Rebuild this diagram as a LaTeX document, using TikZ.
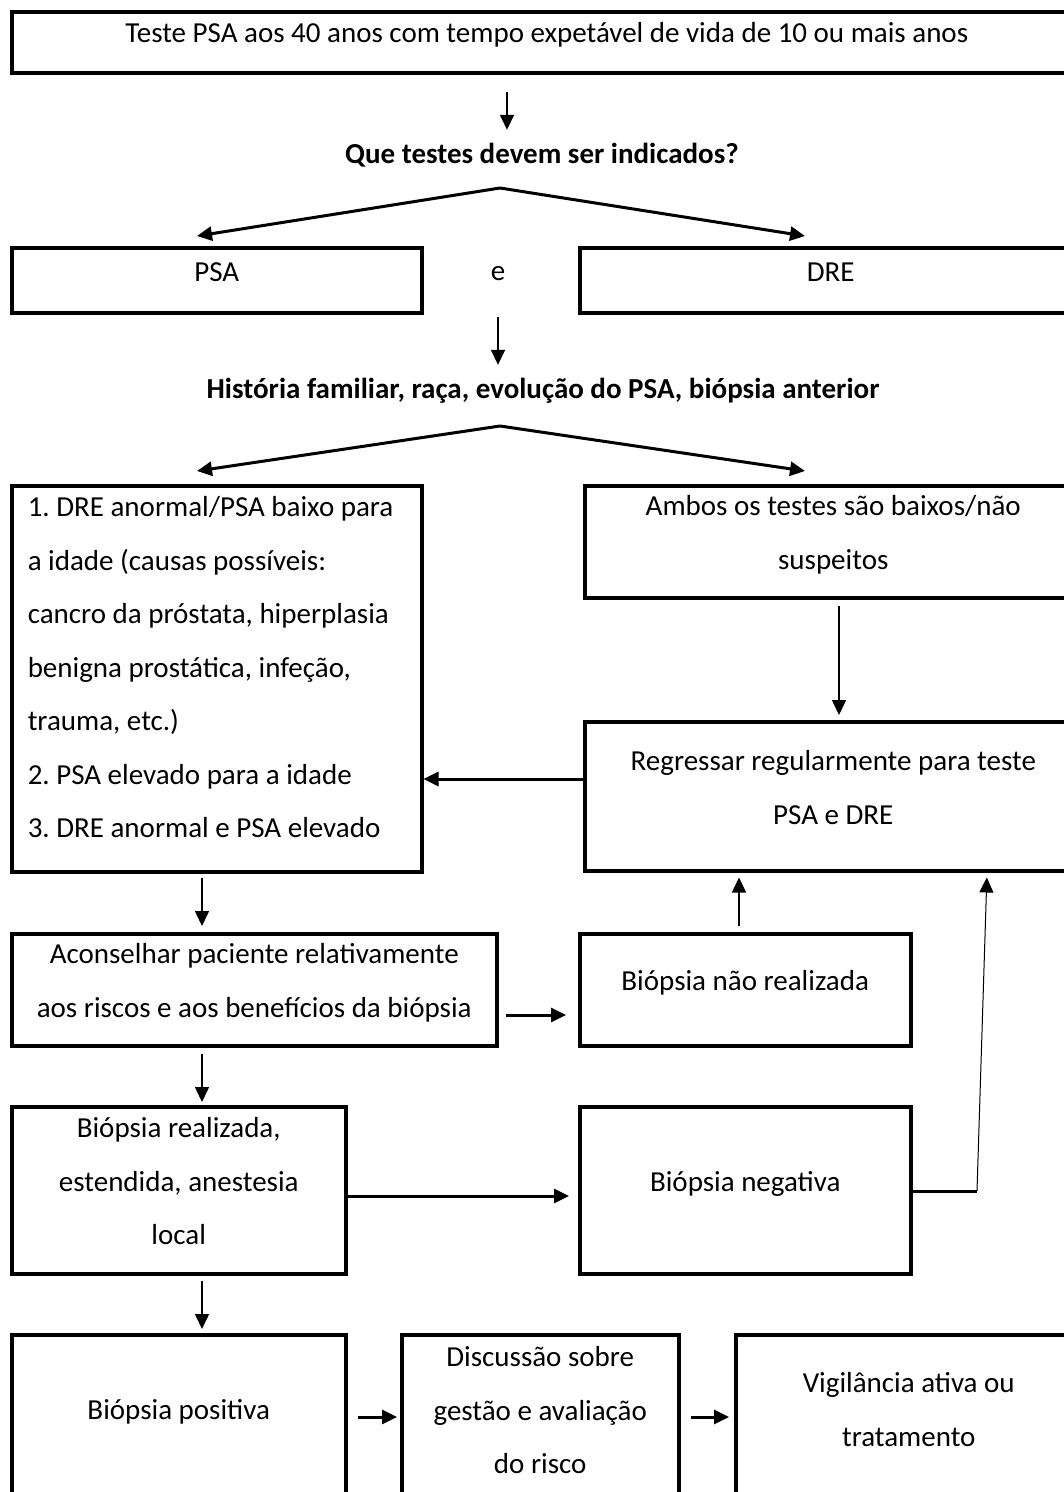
\documentclass[tikz,border=0pt]{standalone}
\usepackage{fontspec}
\setmainfont{Carlito}
\usetikzlibrary{arrows.meta}
\frenchspacing

\begin{document}
\begin{tikzpicture}[x=1pt, y=-1pt,
    every node/.style={font=\fontsize{29}{53.5}\selectfont},
    box/.style={draw, line width=3.5pt, anchor=north west, inner sep=0pt, align=flush center},
    heading/.style={font=\fontsize{29}{53.5}\selectfont\bfseries, anchor=base, inner sep=0pt, text height=22pt, text depth=7pt},
    tip/.style={-{Triangle[length=15pt, width=14pt]}},
    arr/.style={tip, line width=1.5pt},
    arrb/.style={tip, line width=3pt}]
  \useasboundingbox (0,0) rectangle (1064,1492);
  \clip (0,0) rectangle (1064,1492);
  \fill[white] (0,0) rectangle (1064,1492);

  \node[box, text width=1070pt, text height=31pt, text depth=30pt] (top) at (10,10)
    {Teste PSA aos 40 anos com tempo expetável de vida de 10 ou mais anos};
  \node[heading] (q) at (542,163) {Que testes devem ser indicados?};
  \node[box, text width=410pt, text height=34pt, text depth=31pt] (psa) at (10,246) {PSA};
  \node[anchor=base, inner sep=0pt] (e) at (498,280) {e};
  \node[box, text width=502pt, text height=34pt, text depth=31pt] (dre) at (578,246) {DRE};
  \node[heading] (hist) at (543,398) {História familiar, raça, evolução do PSA, biópsia anterior};

  \node[box, text width=378pt, inner xsep=16pt, text height=31pt, text depth=355pt, align=flush left] (crit) at (10,484)
    {1. DRE anormal/PSA baixo para\\ a idade (causas possíveis:\\ cancro da próstata, hiperplasia\\ benigna prostática, infeção,\\ trauma, etc.)\\ 2. PSA elevado para a idade\\ 3. DRE anormal e PSA elevado};
  \node[box, text width=497pt, text height=30pt, text depth=82pt] (ambos) at (583,484)
    {Ambos os testes são baixos/não\\ suspeitos};
  \node[box, text width=497pt, text height=49pt, text depth=100pt] (reg) at (583,720)
    {Regressar regularmente para teste\\ PSA e DRE};
  \node[box, text width=485pt, text height=30pt, text depth=82pt] (acon) at (10,932)
    {Aconselhar paciente relativamente\\ aos riscos e aos benefícios da biópsia};
  \node[box, text width=331pt, text height=57pt, text depth=55pt] (naoreal) at (578,932)
    {Biópsia não realizada};
  \node[box, text width=334pt, text height=31pt, text depth=136pt] (real) at (10,1105)
    {Biópsia realizada,\\ estendida, anestesia\\ local};
  \node[box, text width=331pt, text height=85pt, text depth=82pt] (neg) at (578,1105) {Biópsia negativa};
  \node[box, text width=334pt, text height=85pt, text depth=82pt] (pos) at (10,1333) {Biópsia positiva};
  \node[box, text width=277pt, text height=32pt, text depth=135pt] (disc) at (400,1333)
    {Discussão sobre\\ gestão e avaliação\\ do risco};
  \node[box, text width=346pt, text height=58pt, text depth=109pt] (vig) at (734,1333)
    {Vigilância ativa ou\\ tratamento};

  \coordinate (c507) at (507,0);
  \coordinate (colA) at (202,0);
  \coordinate (c739) at (739,0);
  \coordinate (c839) at (839,0);
  \coordinate (c987) at (987,0);
  \coordinate (split1) at (500,188);
  \coordinate (split2) at (500,426);
  \coordinate (psain) at (197,236);
  \coordinate (drein) at (805,236);
  \coordinate (critin) at (197,471);
  \coordinate (ambosin) at (805,471);
  \coordinate (r6) at (0,779);
  \coordinate (r8) at (0,1015);
  \coordinate (r11) at (0,1196);
  \coordinate (r14) at (0,1417);
  \coordinate (bend) at (977,1191);

  \draw[arr, shorten <=17pt, shorten >=11pt] (top.south -| c507) -- (q.north -| c507);
  \draw[arrb] (split1) -- (psain);
  \draw[arrb] (split1) -- (drein);
  \draw[arr, shorten <=2pt, shorten >=11pt] (psa.south -| e) -- (hist.north -| e);
  \draw[arrb] (split2) -- (critin);
  \draw[arrb] (split2) -- (ambosin);
  \draw[arr, shorten <=6pt, shorten >=5pt] (ambos.south -| c839) -- (reg.north -| c839);
  \draw[arrb] (reg.west |- r6) -- (crit.east |- r6);
  \draw[arr, shorten <=4pt, shorten >=6pt] (crit.south -| colA) -- (acon.north -| colA);
  \draw[arrb, shorten <=7pt, shorten >=12pt] (acon.east |- r8) -- (naoreal.west |- r8);
  \draw[arr, shorten <=6pt, shorten >=5pt] (naoreal.north -| c739) -- (reg.south -| c739);
  \draw[arr, shorten <=6pt, shorten >=3pt] (acon.south -| colA) -- (real.north -| colA);
  \draw[arrb, shorten >=9pt] (real.east |- r11) -- (neg.west |- r11);
  \draw[line width=3pt] (neg.east |- bend) -- (bend);
  \draw[tip, line width=1pt, shorten >=5pt] (bend) -- (reg.south -| c987);
  \draw[arr, shorten <=5pt, shorten >=4pt] (real.south -| colA) -- (pos.north -| colA);
  \draw[arrb, shorten <=10pt, shorten >=3pt] (pos.east |- r14) -- (disc.west |- r14);
  \draw[arrb, shorten <=10pt, shorten >=5pt] (disc.east |- r14) -- (vig.west |- r14);
\end{tikzpicture}
\end{document}
